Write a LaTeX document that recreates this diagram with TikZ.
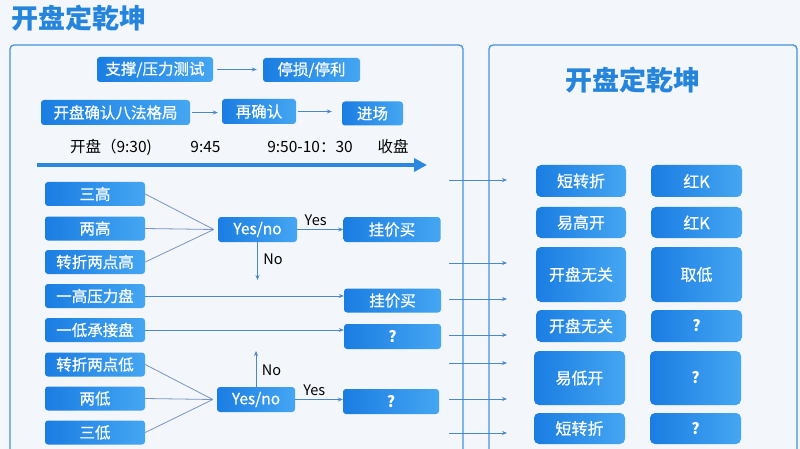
\documentclass[tikz,border=0pt]{standalone}
\usepackage{fontspec}
\setmainfont{Noto Sans CJK SC}
\newfontfamily\boxfnt{Noto Sans CJK SC}[FakeBold=0.6]
\usetikzlibrary{arrows.meta}
\definecolor{bgc}{HTML}{F3F6FA}
\definecolor{frm}{HTML}{4393DC}
\definecolor{boxA}{HTML}{1A7DE2}
\definecolor{boxB}{HTML}{45A6F2}
\definecolor{ttl}{HTML}{2585DD}
\definecolor{lnc}{HTML}{4A88CC}
\definecolor{cvc}{HTML}{7A94C4}
\definecolor{tlc}{HTML}{2A88DE}
\begin{document}
\begin{tikzpicture}[x=1pt,y=-1pt,
  box/.style={rounded corners=3pt, left color=boxA, right color=boxB, text=white,
    font=\boxfnt\fontsize{15.5}{15.5}\selectfont, inner sep=0pt},
  qbox/.style={font=\fontsize{15.5}{15.5}\selectfont\bfseries},
  rbox/.style={box, rounded corners=5pt, minimum width=90pt, font=\boxfnt\fontsize{16}{16}\selectfont},
  lbox/.style={box, minimum width=100pt, minimum height=24pt},
  mbox/.style={box, minimum width=97pt, minimum height=25pt},
  arr/.style={draw=lnc, line width=0.9pt, -{Stealth[length=5pt,width=4pt]}},
  conv/.style={draw=cvc, line width=0.8pt},
  lbl/.style={font=\fontsize{14.5}{14.5}\selectfont, text=black},
  ttlf/.style={font=\fontsize{27}{27}\selectfont\bfseries, text=ttl},
  frame/.style={draw=frm, line width=1.3pt, rounded corners=4pt}]
\fill[bgc] (0,0) rectangle (800,449);
\useasboundingbox (0,0) rectangle (800,449);
% frames
\draw[frame] (10,45) rectangle (463,470);
\draw[frame] (489,45) rectangle (797,470);
% titles
\node[ttlf, anchor=west, inner sep=0pt] (title) at (11,18) {开盘定乾坤};
\node[ttlf, inner sep=0pt] (rtitle) at (633,80) {开盘定乾坤};
% top flow
\node[box, minimum width=116pt, minimum height=25pt] (sup) at (155,69.5) {支撑/压力测试};
\node[box, minimum width=97pt, minimum height=24pt] (stp) at (311.5,70) {停损/停利};
\node[box, minimum width=149pt, minimum height=25pt] (kp) at (115.5,112.5) {开盘确认八法格局};
\node[box, minimum width=74pt, minimum height=25pt] (zqr) at (259,111.5) {再确认};
\node[box, minimum width=61pt, minimum height=24pt] (jc) at (372.5,113.5) {进场};
\draw[arr, shorten <=4pt, shorten >=6pt] (sup.east) -- (stp.west |- sup.east);
\draw[arr, shorten <=2pt, shorten >=4pt] (kp.east) -- (zqr.west |- kp.east);
\draw[arr, shorten <=2pt, shorten >=10pt] (zqr.east) -- (jc.west |- zqr.east);
% timeline
\node[lbl, font=\fontsize{15.5}{15.5}\selectfont] (t1) at (111,147) {开盘（9:30)};
\node[lbl, font=\fontsize{15.5}{15.5}\selectfont] (t2) at (205.5,147) {9:45};
\node[lbl, font=\fontsize{15.5}{15.5}\selectfont] (t3) at (310,147) {9:50-10：30};
\node[lbl, font=\fontsize{15.5}{15.5}\selectfont] (t4) at (393,147) {收盘};
\coordinate (tl0) at (37,165);
\coordinate (tl1) at (427,165);
\draw[draw=tlc, line width=4pt, -{Triangle[length=13pt,width=13pt]}] (tl0) -- (tl1);
% left column
\node[lbox] (g1) at (95,194) {三高};
\node[lbox] (g2) at (95,228.5) {两高};
\node[lbox] (g3) at (95,262) {转折两点高};
\node[lbox] (g4) at (95,296) {一高压力盘};
\node[lbox] (g5) at (95,330) {一低承接盘};
\node[lbox] (g6) at (95,364.5) {转折两点低};
\node[lbox] (g7) at (95,398.5) {两低};
\node[lbox] (g8) at (95,432.5) {三低};
% decisions
\node[box, minimum width=79pt, minimum height=25pt] (yn1) at (257.5,229.5) {Yes/no};
\node[box, minimum width=78pt, minimum height=25pt] (yn2) at (256,399.5) {Yes/no};
\coordinate (m1) at ([xshift=-4pt]yn1.west);
\coordinate (m2) at ([xshift=-4pt]yn2.west);
\draw[conv] (g1.east) -- (m1);
\draw[conv] (g2.east) -- (m1);
\draw[conv] (g3.east) -- (m1);
\draw[conv] (g6.east) -- (m2);
\draw[conv] (g7.east) -- (m2);
\draw[conv] (g8.east) -- (m2);
% outcomes
\node[mbox] (b1) at (392,229.5) {挂价买};
\node[mbox, minimum height=24pt] (b2) at (392.5,300.5) {挂价买};
\node[mbox, qbox] (q1) at (392.5,336.5) {?};
\node[mbox, minimum width=96pt, qbox] (q2) at (391,401.5) {?};
\draw[arr] (yn1.east) -- node[lbl, above, pos=0.4] {Yes} (b1.west |- yn1.east);
\coordinate (n1) at (257.5,280);
\draw[arr] (yn1.south) -- node[lbl, right, pos=0.45, xshift=2pt] {No} (n1);
\draw[arr] (g4.east) -- (b2.west |- g4.east);
\draw[arr] (g5.east) -- (q1.west |- g5.east);
\draw[arr] (yn2.east) -- node[lbl, above, pos=0.4] {Yes} (q2.west |- yn2.east);
\coordinate (n2) at (256,351);
\draw[arr] (yn2.north) -- node[lbl, right, pos=0.45, xshift=2pt] {No} (n2);
% right side arrows
\foreach \yy [count=\i] in {180,263,299,335,363,399,433}{
  \coordinate (ra\i) at (449,\yy);
  \coordinate (rb\i) at (507,\yy);
  \draw[arr] (ra\i) -- (rb\i);
}
% right boxes
\node[rbox, minimum height=32pt] (r1a) at (581,181) {短转折};
\node[rbox, minimum width=91pt, minimum height=32pt] (r1b) at (696.5,181) {红K};
\node[rbox, minimum height=31pt] (r2a) at (581,222.5) {易高开};
\node[rbox, minimum width=91pt, minimum height=31pt] (r2b) at (696.5,222.5) {红K};
\node[rbox, minimum height=55pt] (r3a) at (581,274.5) {开盘无关};
\node[rbox, minimum width=91pt, minimum height=55pt] (r3b) at (696.5,274.5) {取低};
\node[rbox, minimum height=32pt] (r4a) at (581,326) {开盘无关};
\node[rbox, minimum width=91pt, minimum height=32pt, qbox] (r4b) at (696.5,326) {?};
\node[rbox, minimum width=91pt, minimum height=54pt] (r5a) at (579.5,378) {易低开};
\node[rbox, minimum width=91pt, minimum height=54pt, qbox] (r5b) at (695.5,378) {?};
\node[rbox, minimum width=91pt, minimum height=31pt] (r6a) at (579.5,428.5) {短转折};
\node[rbox, minimum width=91pt, minimum height=31pt, qbox] (r6b) at (695.5,428.5) {?};
\end{tikzpicture}
\end{document}
